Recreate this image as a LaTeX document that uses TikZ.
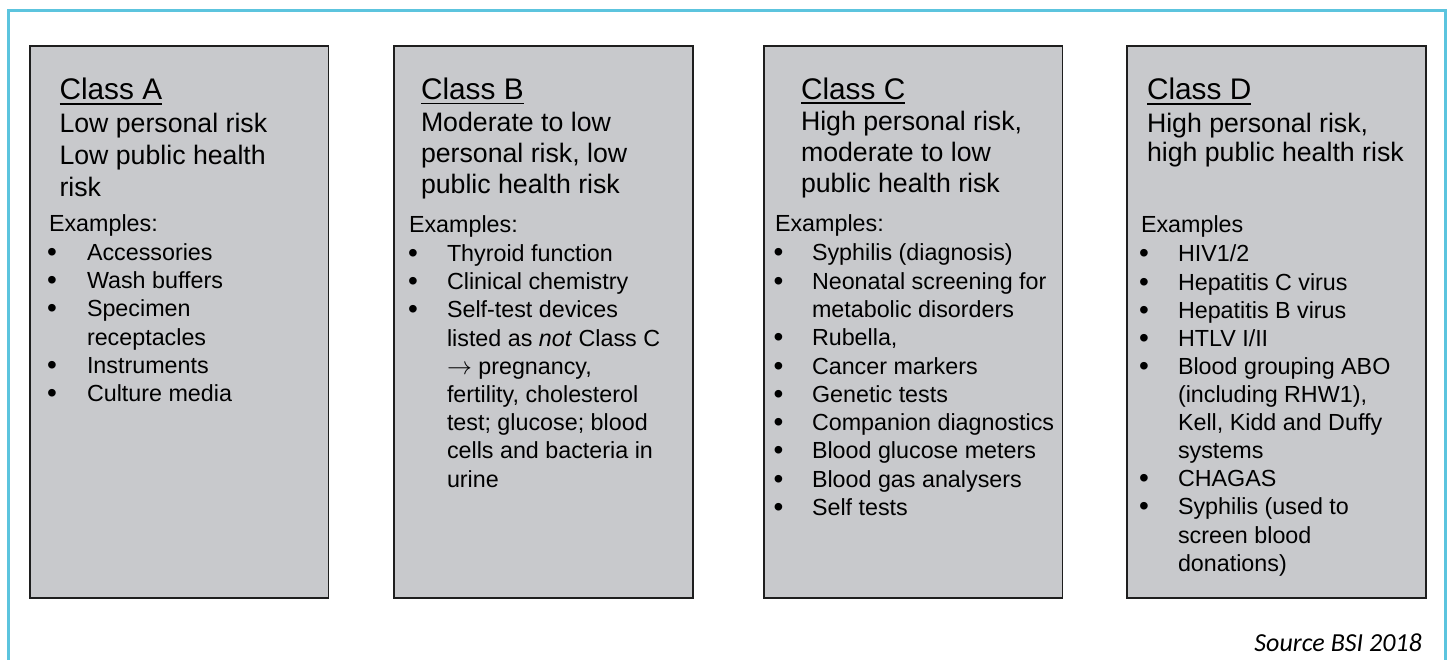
\documentclass[tikz,border=0pt]{standalone}
\usepackage{fontspec}
\setmainfont{Liberation Sans}
\newfontfamily\srcfont{Carlito}
\definecolor{frameblue}{RGB}{92,196,222}
\definecolor{boxgray}{RGB}{200,201,204}
\definecolor{boxline}{RGB}{30,30,30}
\definecolor{txt}{RGB}{0,0,0}
\tikzset{
  classbox/.style={draw=boxline, fill=boxgray, line width=1.9pt},
  ln/.style={anchor=base west, inner sep=0pt, outer sep=0pt, text=txt},
  ttl/.style={ln, font=\fontsize{29.8}{30}\selectfont},
  sub/.style={ln, font=\fontsize{26.7}{27}\selectfont},
  body/.style={ln, font=\fontsize{23.3}{24}\selectfont},
  bul/.style={ln, font=\fontsize{28}{28}\selectfont},
  ul/.style={line width=1.9pt, draw=txt},
}
\begin{document}
\begin{tikzpicture}[x=1pt,y=-1pt]
\useasboundingbox (0,0) rectangle (1448,660);
% outer frame (bottom edge lies outside the picture)
\draw[frameblue, line width=3pt] (8.3,660) -- (8.3,10.3) -- (1445,10.3) -- (1445,660);

% boxes
\path[classbox] (30,46) rectangle (328.5,598);
\path[classbox] (394,46) rectangle (693,598);
\path[classbox] (764,46) rectangle (1062.5,598);
\path[classbox] (1127,46) rectangle (1426,598);

% ---------- Class A ----------
\node[ttl] (tA) at (59.5,100) {Class A};
\draw[ul] ([yshift=-4pt]tA.base west) -- ([yshift=-4pt]tA.base east);
\node[sub] (sA1) at (59.5,132.7) {Low personal risk};
\node[sub] (sA2) at (59.5,164.8) {Low public health};
\node[sub] (sA3) at (59.5,196.8) {risk};
\node[body] (eA) at (49,231.5) {Examples:};
\foreach \t/\b [count=\i] in {Accessories/1, Wash buffers/1, Specimen/1, receptacles/0, Instruments/1, Culture media/1}{
  \node[body] (iA\i) at (87,{260.5+28.2*(\i-1)}) {\t};
  \ifnum\b=1 \node[bul] (bA\i) at (47,{261.5+28.2*(\i-1)}) {\textbullet}; \fi
}

% ---------- Class B ----------
\node[ttl] (tB) at (421,99.5) {Class B};
\draw[ul] ([yshift=-4pt]tB.base west) -- ([yshift=-4pt]tB.base east);
\node[sub] (sB1) at (421,131.5) {Moderate to low};
\node[sub] (sB2) at (421,162.5) {personal risk, low};
\node[sub] (sB3) at (421,193.5) {public health risk};
\node[body] (eB) at (409,233) {Examples:};
\foreach \t/\b [count=\i] in {Thyroid function/1, Clinical chemistry/1, Self-test devices/1, {listed as \textit{not} Class C}/0, {$\rightarrow$ pregnancy,}/0, {fertility, cholesterol}/0, {test; glucose; blood}/0, {cells and bacteria in}/0, urine/0}{
  \node[body] (iB\i) at (447,{261.5+28.2*(\i-1)}) {\t};
  \ifnum\b=1 \node[bul] (bB\i) at (408,{262.5+28.2*(\i-1)}) {\textbullet}; \fi
}

% ---------- Class C ----------
\node[ttl] (tC) at (801,99.2) {Class C};
\draw[ul] ([yshift=-4pt]tC.base west) -- ([yshift=-4pt]tC.base east);
\node[sub] (sC1) at (801,131) {High personal risk,};
\node[sub] (sC2) at (801,162) {moderate to low};
\node[sub] (sC3) at (801,193) {public health risk};
\node[body] (eC) at (775,232) {Examples:};
\foreach \t/\b [count=\i] in {Syphilis (diagnosis)/1, Neonatal screening for/1, metabolic disorders/0, {Rubella,}/1, Cancer markers/1, Genetic tests/1, Companion diagnostics/1, Blood glucose meters/1, Blood gas analysers/1, Self tests/1}{
  \node[body] (iC\i) at (812,{261+28.25*(\i-1)}) {\t};
  \ifnum\b=1 \node[bul] (bC\i) at (773.5,{262+28.25*(\i-1)}) {\textbullet}; \fi
}

% ---------- Class D ----------
\node[ttl] (tD) at (1147,100) {Class D};
\draw[ul] ([yshift=-4pt]tD.base west) -- ([yshift=-4pt]tD.base east);
\node[sub] (sD1) at (1147,132.5) {High personal risk,};
\node[sub] (sD2) at (1147,162) {high public health risk};
\node[body] (eD) at (1141,233) {Examples};
\foreach \t/\b [count=\i] in {{HIV1/2}/1, {Hepatitis C virus}/1, {Hepatitis B virus}/1, {HTLV I/II}/1, {Blood grouping ABO}/1, {(including RHW1),}/0, {Kell, Kidd and Duffy}/0, {systems}/0, {CHAGAS}/1, {Syphilis (used to}/1, {screen blood}/0, {donations)}/0}{
  \node[body] (iD\i) at (1178,{262+28.1*(\i-1)}) {\t};
  \ifnum\b=1 \node[bul] (bD\i) at (1139,{263+28.1*(\i-1)}) {\textbullet}; \fi
}

% source
\node[anchor=base east, inner sep=0pt, font=\srcfont\itshape\fontsize{26}{26}\selectfont] (src) at (1422,651) {Source BSI 2018};
\end{tikzpicture}
\end{document}
